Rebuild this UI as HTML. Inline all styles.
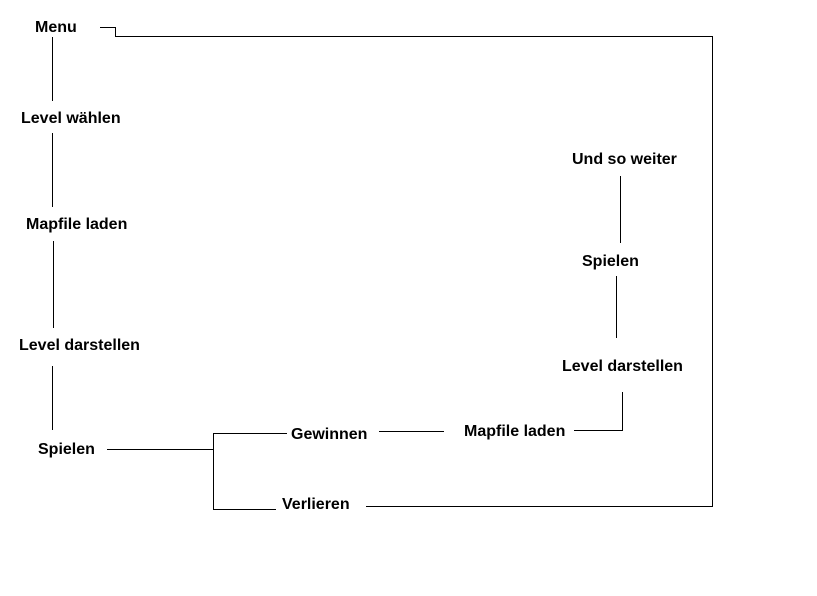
<!DOCTYPE html>
<html><head><style>body{margin:0;background:#fff}svg{display:block}text{font-family:"Liberation Sans",Arial,sans-serif;font-weight:bold;font-size:16px;fill:#000}</style></head>
<body>
<svg width="817" height="596" viewBox="0 0 817 596">
<g stroke="#000" stroke-width="1" fill="none" shape-rendering="crispEdges">
<polyline points="100,27.5 115.5,27.5 115.5,36.5 712.5,36.5 712.5,506.5 366,506.5"/>
<line x1="52.5" y1="37" x2="52.5" y2="101"/>
<line x1="52.5" y1="133" x2="52.5" y2="207"/>
<line x1="53.5" y1="241" x2="53.5" y2="328"/>
<line x1="52.5" y1="366" x2="52.5" y2="430"/>
<line x1="107" y1="449.5" x2="213" y2="449.5"/>
<polyline points="287,433.5 213.5,433.5 213.5,509.5 276,509.5"/>
<line x1="379" y1="431.5" x2="444" y2="431.5"/>
<polyline points="574,430.5 622.5,430.5 622.5,392"/>
<line x1="616.5" y1="276" x2="616.5" y2="338"/>
<line x1="620.5" y1="176" x2="620.5" y2="243"/>
</g>
<text x="35" y="32">Menu</text>
<text x="21" y="123">Level wählen</text>
<text x="26" y="229">Mapfile laden</text>
<text x="19" y="350">Level darstellen</text>
<text x="38" y="454">Spielen</text>
<text x="291" y="439">Gewinnen</text>
<text x="282" y="509">Verlieren</text>
<text x="464" y="436">Mapfile laden</text>
<text x="562" y="371">Level darstellen</text>
<text x="582" y="266">Spielen</text>
<text x="572" y="164">Und so weiter</text>
</svg>
</body></html>
